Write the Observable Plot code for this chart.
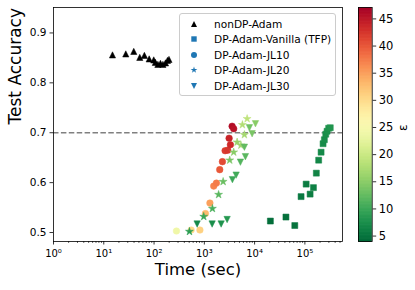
<!DOCTYPE html>
<html>
<head>
<meta charset="utf-8">
<script src="https://cdn.jsdelivr.net/npm/d3@7"></script>
<script src="https://cdn.jsdelivr.net/npm/@observablehq/plot@0.6"></script>
<style>
  body { margin: 0; background: white; font-family: "DejaVu Sans", sans-serif; }
  #wrap { position: relative; width: 415px; height: 290px; }
  #wrap > svg { position: absolute; left: 0; top: 0; }
  #legend { position: absolute; left: 179px; top: 13px; width: 157px; height: 83px; box-sizing: border-box;
    border: 1px solid #cccccc; border-radius: 3px; background: rgba(255,255,255,0.8); }
  .row { position: absolute; left: 0; height: 14px; display: flex; align-items: center; font-size: 10.6px; white-space: nowrap; }
  .row svg { width: 14px; height: 14px; margin-left: 7px; margin-right: 13px; }
</style>
</head>
<body>
<div id="wrap"></div>
<script>
// ---- data ----
const nonDP_time = [14.9, 27.4, 39.5, 52, 64.2, 80, 98.6, 106, 119, 134, 150, 169, 185, 198];
const nonDP_acc  = [0.856, 0.858, 0.863, 0.851, 0.855, 0.848, 0.846, 0.841, 0.837, 0.839, 0.837, 0.840, 0.845, 0.847];

const vanilla_time = [20600, 42000, 63000, 84000, 106000, 127000, 148000, 169000, 188000, 210000, 230000, 244000, 260000, 276000, 297000, 320000];
const vanilla_acc  = [0.523, 0.531, 0.514, 0.572, 0.597, 0.577, 0.590, 0.619, 0.645, 0.661, 0.678, 0.686, 0.697, 0.703, 0.709, 0.710];
const vanilla_eps  = [4.5, 4.8, 5.0, 5.5, 5.8, 6.0, 6.2, 6.5, 6.8, 7.0, 7.2, 7.4, 7.6, 7.8, 8.0, 8.2];

const jl10_time = [279, 547, 817, 1052, 1291, 1538, 1740, 2025, 2290, 2590, 2920, 3110, 3300, 3570, 3840];
const jl10_acc  = [0.503, 0.505, 0.505, 0.538, 0.559, 0.593, 0.599, 0.626, 0.642, 0.664, 0.665, 0.689, 0.676, 0.713, 0.708];
const jl10_eps  = [24, 30, 31, 33, 35, 37, 37.5, 40, 41, 42, 42.5, 44, 43.5, 46, 45.5];

const jl20_time = [506, 973, 1449, 1923, 2366, 3200, 3840, 4490, 5340, 6270, 5720, 7100];
const jl20_acc  = [0.502, 0.532, 0.548, 0.576, 0.602, 0.645, 0.661, 0.681, 0.675, 0.696, 0.716, 0.728];
const jl20_eps  = [9, 10, 11, 12, 13, 14, 15, 16, 16.5, 17, 18, 19];

const jl30_time = [719, 1430, 2160, 2840, 3620, 4290, 5220, 6560, 6270, 7880, 8920, 10400];
const jl30_acc  = [0.517, 0.517, 0.517, 0.526, 0.606, 0.615, 0.641, 0.652, 0.671, 0.710, 0.698, 0.718];
const jl30_eps  = [7, 7.5, 8, 8.5, 10, 10.5, 11.5, 12, 12.5, 13.5, 14, 15];

const seriesNames = ["nonDP-Adam", "DP-Adam-Vanilla (TFP)", "DP-Adam-JL10", "DP-Adam-JL20", "DP-Adam-JL30"];
const xMajor = [1, 10, 100, 1000, 10000, 100000];
const xMajorLabels = ["10\u2070", "10\u00b9", "10\u00b2", "10\u00b3", "10\u2074", "10\u2075"];
const yTicks = [0.5, 0.6, 0.7, 0.8, 0.9];
const epsTicks = [5, 10, 15, 20, 25, 30, 35, 40, 45];
const threshold = [0.7];

// ---- helpers ----
const zip = (t, a, e) => t.map((d, i) => ({time: d, acc: a[i], eps: e ? e[i] : null}));
const xMinor = [];
for (let k = 0; k < 6; k++) for (let m = 2; m <= 9; m++) { const v = m * 10 ** k; if (v < 5.6e5) xMinor.push(v); }

const triUp = {draw(c, s) { const r = Math.sqrt(s / Math.PI); c.moveTo(0, -r); c.lineTo(r, r); c.lineTo(-r, r); c.closePath(); }};
const triDown = {draw(c, s) { const r = Math.sqrt(s / Math.PI); c.moveTo(0, r); c.lineTo(r, -r); c.lineTo(-r, -r); c.closePath(); }};
const square = {draw(c, s) { const r = Math.sqrt(s / Math.PI); c.rect(-r, -r, 2 * r, 2 * r); }};

const colorOpts = {type: "linear", scheme: "RdYlGn", reverse: true, domain: [4.0, 47.1]};
const font = "DejaVu Sans";

const main = Plot.plot({
  width: 415, height: 290,
  marginLeft: 53, marginRight: 73, marginTop: 7, marginBottom: 49,
  style: {fontFamily: font, fontSize: "10.5px", background: "transparent", color: "black"},
  x: {type: "log", domain: [1, 5.6e5]},
  y: {domain: [0.482, 0.951]},
  color: colorOpts,
  marks: [
    Plot.ruleY(threshold, {stroke: "#808080", strokeWidth: 1.5, strokeDasharray: "5.5,2.4"}),
    Plot.dot(zip(nonDP_time, nonDP_acc), {x: "time", y: "acc", symbol: triUp, r: 3.1, fill: "black", stroke: "black", strokeWidth: 0.5}),
    Plot.dot(zip(vanilla_time, vanilla_acc, vanilla_eps), {x: "time", y: "acc", symbol: square, r: 3.0, fill: "eps", stroke: "eps", strokeWidth: 0.5}),
    Plot.dot(zip(jl10_time, jl10_acc, jl10_eps), {x: "time", y: "acc", symbol: "circle", r: 3.3, fill: "eps", stroke: "eps", strokeWidth: 0.5}),
    Plot.dot(zip(jl20_time, jl20_acc, jl20_eps), {x: "time", y: "acc", symbol: "star", r: 2.5, fill: "eps", stroke: "eps", strokeWidth: 0.5}),
    Plot.dot(zip(jl30_time, jl30_acc, jl30_eps), {x: "time", y: "acc", symbol: triDown, r: 3.2, fill: "eps", stroke: "eps", strokeWidth: 0.5}),
    Plot.frame({stroke: "black", strokeWidth: 0.8}),
    Plot.axisX({ticks: xMajor, tickSize: 3.5, tickPadding: 5, strokeWidth: 0.8, fontSize: 10,
      tickFormat: d => xMajorLabels[xMajor.indexOf(d)], label: null}),
    Plot.axisX({ticks: xMinor, tickSize: 2, strokeWidth: 0.6, tickFormat: () => "", label: null}),
    Plot.axisY({ticks: yTicks, tickSize: 3.5, tickPadding: 3.5, strokeWidth: 0.8, fontSize: 10.5,
      tickFormat: d3.format(".1f"), label: null}),
    Plot.text(["Time (sec)"], {frameAnchor: "bottom", dy: 33, fontSize: 16.5}),
    Plot.text(["Test Accuracy"], {frameAnchor: "left", dx: -38, rotate: -90, fontSize: 17})
  ]
});

const steps = d3.range(400).map(i => 4.0 + (47.1 - 4.0) * (i + 0.5) / 400);
const cbar = Plot.plot({
  width: 415, height: 290,
  marginLeft: 358, marginRight: 43.3, marginTop: 7, marginBottom: 49,
  style: {fontFamily: font, fontSize: "11.5px", background: "transparent", color: "black"},
  y: {domain: [4.0, 47.1]},
  color: colorOpts,
  marks: [
    Plot.ruleY(steps, {y: d => d, stroke: d => d, strokeWidth: 1.2}),
    Plot.frame({stroke: "black", strokeWidth: 0.8}),
    Plot.axisY({anchor: "right", ticks: epsTicks, tickSize: 3.5, tickPadding: 3, strokeWidth: 0.8, fontSize: 11.5, label: null}),
    Plot.text(["\u03b5"], {frameAnchor: "right", dx: 31, rotate: -90, fontSize: 12})
  ]
});

const wrap = document.getElementById("wrap");
wrap.appendChild(main);
wrap.appendChild(cbar);

// legend
const legend = document.createElement("div");
legend.id = "legend";
const legSyms = [
  {type: triUp, size: Math.PI * 9, fill: "black"},
  {type: square, size: Math.PI * 7.3, fill: "#1f77b4"},
  {type: d3.symbolCircle, size: Math.PI * 9, fill: "#1f77b4"},
  {type: d3.symbolStar, size: Math.PI * 4.5, fill: "#1f77b4"},
  {type: triDown, size: Math.PI * 9, fill: "#1f77b4"}
];
const rowCenters = [9.7, 24.7, 40.5, 56.3, 71.5];
seriesNames.forEach((name, i) => {
  const row = document.createElement("div");
  row.className = "row";
  row.style.top = (rowCenters[i] - 7) + "px";
  const s = legSyms[i];
  row.innerHTML = `<svg viewBox="-7 -7 14 14"><path d="${d3.symbol(s.type, s.size)()}" fill="${s.fill}"/></svg><span>${name}</span>`;
  legend.appendChild(row);
});
wrap.appendChild(legend);
</script>
</body>
</html>
